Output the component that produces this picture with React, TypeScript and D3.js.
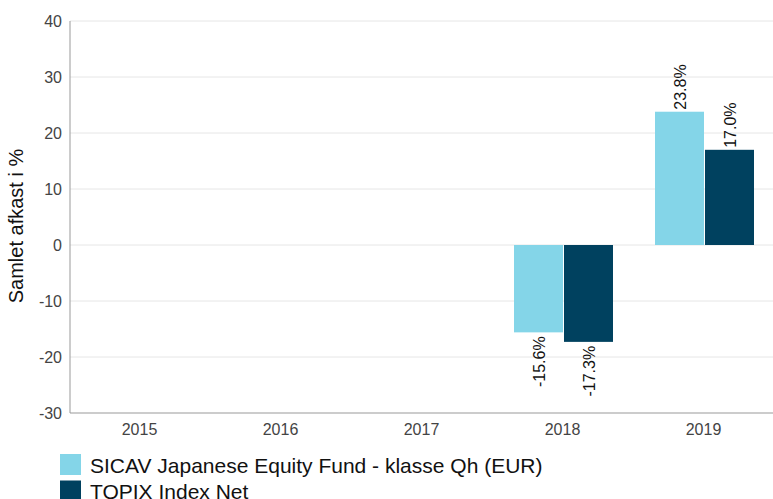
import React from "react";
import * as d3 from "d3";

const categories = ["2015", "2016", "2017", "2018", "2019"];
const seriesNames = ["SICAV Japanese Equity Fund - klasse Qh (EUR)", "TOPIX Index Net"];
const fundValues: (number | null)[] = [null, null, null, -15.6, 23.8];
const indexValues: (number | null)[] = [null, null, null, -17.3, 17.0];
const yTicks = [-30, -20, -10, 0, 10, 20, 30, 40];
const colors = ["#84D5E8", "#00415F"];

export default function App() {
  const W = 773, H = 499;
  const left = 70, right = 775, top = 21, bottom = 413;
  const x = d3.scaleBand<string>().domain(categories).range([left, right]).paddingInner(0).paddingOuter(0);
  const y = d3.scaleLinear().domain([-30, 40]).range([bottom, top]);
  const groupW = 99;
  const inner = d3.scaleBand<number>().domain([0, 1]).range([(x.bandwidth() - groupW) / 2, (x.bandwidth() + groupW) / 2]).paddingInner(0.02).paddingOuter(0);
  const series = [fundValues, indexValues];
  const font = "Liberation Sans, Arial, sans-serif";
  return (
    <svg width={W} height={H} style={{ position: "absolute", left: 0, top: 0, background: "#fff" }} fontFamily={font}>
      {yTicks.map((t) => (
        <g key={t}>
          {t !== -30 && <line x1={left} x2={W} y1={y(t)} y2={y(t)} stroke="#e6e6e6" strokeWidth={1} />}
          <text x={62} y={y(t)} dy="0.35em" textAnchor="end" fontSize={16} fill="#444">{t}</text>
        </g>
      ))}
      <line x1={left} x2={left} y1={top} y2={bottom} stroke="#999" />
      <line x1={left} x2={W} y1={bottom} y2={bottom} stroke="#999" />
      {categories.map((c) => (
        <text key={c} x={(x(c) as number) + x.bandwidth() / 2 - 1} y={435} textAnchor="middle" fontSize={16} fill="#444">{c}</text>
      ))}
      <text transform={`translate(23,${226}) rotate(-90)`} textAnchor="middle" fontSize={20} fill="#111">Samlet afkast i %</text>
      {series.map((vals, si) =>
        vals.map((v, i) => {
          if (v == null) return null;
          const bx = (x(categories[i]) as number) + (inner(si) as number);
          const bw = inner.bandwidth();
          const y0 = y(0), y1 = y(v);
          const cx = bx + bw / 2;
          const label = v.toFixed(1) + "%";
          return (
            <g key={`${si}-${i}`}>
              <rect x={bx} y={Math.min(y0, y1)} width={bw} height={Math.abs(y1 - y0)} fill={colors[si]} />
              {v >= 0 ? (
                <text transform={`translate(${cx + 6.5},${y1 - 2}) rotate(-90)`} textAnchor="start" fontSize={16} fill="#111">{label}</text>
              ) : (
                <text transform={`translate(${cx + 6.5},${y1 + 4}) rotate(-90)`} textAnchor="end" fontSize={16} fill="#111">{label}</text>
              )}
            </g>
          );
        })
      )}
      {seriesNames.map((n, i) => (
        <g key={n}>
          <rect x={60} y={454 + i * 26.5} width={21} height={21} fill={colors[i]} />
          <text x={90} y={472.5 + i * 26} fontSize={21} fill="#111">{n}</text>
        </g>
      ))}
    </svg>
  );
}
